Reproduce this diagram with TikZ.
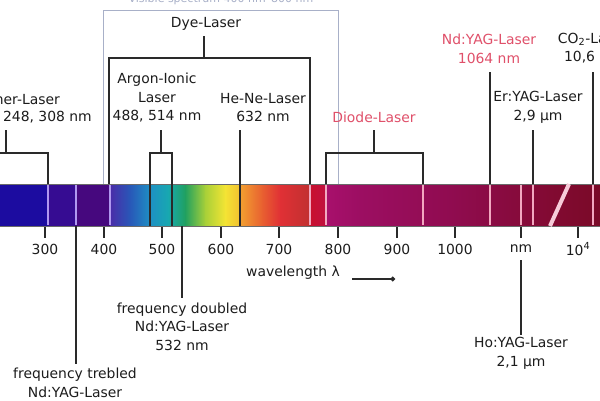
\documentclass[tikz,border=0pt]{standalone}
\usepackage{fontspec}
\usetikzlibrary{arrows.meta}
\setmainfont{DejaVu Sans}
\definecolor{txt}{HTML}{1C1C1C}
\definecolor{redt}{HTML}{E0506A}
\definecolor{lin}{HTML}{2A2A2A}
\definecolor{visc}{HTML}{A8B0C8}
\definecolor{vline}{HTML}{B098F0}
\definecolor{pline}{HTML}{F2A8C0}
\definecolor{s0}{HTML}{1C0CA0}
\definecolor{s1}{HTML}{360C92}
\definecolor{s2}{HTML}{46087E}
\definecolor{s3}{HTML}{4A2CA8}
\definecolor{s4}{HTML}{2858B8}
\definecolor{s5}{HTML}{1E90C4}
\definecolor{s6}{HTML}{18A8B0}
\definecolor{s7}{HTML}{20A060}
\definecolor{s8}{HTML}{A8D038}
\definecolor{s9}{HTML}{F4E434}
\definecolor{s10}{HTML}{F2C030}
\definecolor{s11}{HTML}{F2A030}
\definecolor{s12}{HTML}{E86030}
\definecolor{s13}{HTML}{E03035}
\definecolor{s14}{HTML}{C03030}
\definecolor{s15}{HTML}{C8102E}
\definecolor{s16}{HTML}{C01040}
\definecolor{s17}{HTML}{A8106C}
\definecolor{s18}{HTML}{9C0E62}
\definecolor{s19}{HTML}{900C50}
\definecolor{s20}{HTML}{820A32}
\definecolor{s21}{HTML}{7A0A28}
\begin{document}
\begin{tikzpicture}[x=1pt,y=-1pt,
  lbl/.style={inner sep=0pt, align=center, text=txt, font=\fontsize{13.9}{18.5}\selectfont},
  redlbl/.style={lbl, text=redt},
  vislbl/.style={inner sep=0pt, text=visc, font=\fontsize{11}{13}\selectfont},
  conn/.style={draw=lin, line width=1.5pt},
  tickmark/.style={draw=lin, line width=2pt},
  vbar/.style={draw=vline, line width=1.5pt},
  pbar/.style={draw=pline, line width=1.5pt}]
\useasboundingbox (0,0) rectangle (600,400);
\clip (0,0) rectangle (600,400);
\fill[white] (0,0) rectangle (600,400);

% visible spectrum box
\node[vislbl] (vis) at (221,-1) {Visible spectrum 400 nm–800 nm};
\draw[visc, line width=1pt] (103,184) -- (103,10) -- (338,10) -- (338,184);

% spectrum bar
\fill[s0] (0,184) rectangle (48.5,226);
\fill[s1] (48,184) rectangle (76.5,226);
\fill[s2] (76,184) rectangle (110.5,226);
\shade[left color=s3, right color=s4] (110,184) rectangle (130.5,226);
\shade[left color=s4, right color=s5] (130,184) rectangle (150.5,226);
\shade[left color=s5, right color=s6] (150,184) rectangle (168.5,226);
\shade[left color=s6, right color=s7] (168,184) rectangle (185.5,226);
\shade[left color=s7, right color=s8] (185,184) rectangle (205.5,226);
\shade[left color=s8, right color=s9] (205,184) rectangle (225.5,226);
\shade[left color=s9, right color=s10] (225,184) rectangle (240.5,226);
\shade[left color=s11, right color=s12] (240,184) rectangle (262.5,226);
\shade[left color=s12, right color=s13] (262,184) rectangle (280.5,226);
\shade[left color=s13, right color=s14] (280,184) rectangle (310.5,226);
\shade[left color=s15, right color=s16] (310,184) rectangle (326.5,226);
\shade[left color=s17, right color=s18] (326,184) rectangle (360.5,226);
\shade[left color=s18, right color=s19] (360,184) rectangle (450.5,226);
\shade[left color=s19, right color=s20] (450,184) rectangle (550.5,226);
\shade[left color=s20, right color=s21] (550,184) rectangle (600,226);
\draw[lin!70, line width=0.6pt] (0,184) -- (600,184) (0,226) -- (600,226);

% light lines in the bar
\foreach \x in {48,76,110} \draw[vbar] (\x,185) -- (\x,225);
\foreach \x in {310,326,423,490,521,533,593} \draw[pbar] (\x,185) -- (\x,225);
\draw[draw=pline!60!white, line width=4pt] (550,226) -- (569,184);

% ticks and labels
\foreach \x/\t/\n in {45/300/t3,104/400/t4,162/500/t5,221/600/t6,279/700/t7,338/800/t8,397/900/t9,455/1000/t10,521/nm/tnm,578/10\textsuperscript{4}/t11}{
  \coordinate (\n a) at (\x,227);
  \coordinate (\n b) at (\x,238);
  \draw[tickmark] (\n a) -- (\n b);
  \node[lbl] (\n) at (\x,249) {\t};
}
\node[lbl] (wl) at (293,273) {wavelength λ};
\coordinate (arA) at (352,279);
\coordinate (arB) at (395,279);
\draw[draw=lin, line width=1.3pt, -{Circle[length=4.5pt]}] (arA) -- (arB);

% Excimer
\node[lbl, anchor=east] (exc1) at (60,99) {Excimer-Laser};
\node[lbl, anchor=east] (exc2) at (92,117) {193, 248, 308 nm};
\coordinate (excT) at (6,130); \coordinate (excM) at (6,153);
\coordinate (excL) at (-25,153); \coordinate (excR) at (48,153);
\coordinate (excLb) at (-25,184); \coordinate (excRb) at (48,184);
\draw[conn] (excT) -- (excM);
\draw[conn] (excLb) -- (excL) -- (excR) -- (excRb);

% Dye
\node[lbl] (dye) at (206,24) {Dye-Laser};
\coordinate (dyeT) at (204,36); \coordinate (dyeM) at (204,58);
\coordinate (dyeL) at (109,58); \coordinate (dyeR) at (310,58);
\coordinate (dyeLb) at (109,184); \coordinate (dyeRb) at (310,184);
\draw[conn] (dyeT) -- (dyeM);
\draw[conn] (dyeLb) -- (dyeL) -- (dyeR) -- (dyeRb);

% Argon
\node[lbl] (arg) at (157,98) {Argon-Ionic\\Laser\\488, 514 nm};
\coordinate (argT) at (161,130); \coordinate (argM) at (161,153);
\coordinate (argL) at (150,153); \coordinate (argR) at (172,153);
\coordinate (argLb) at (150,226); \coordinate (argRb) at (172,226);
\draw[conn] (argT) -- (argM);
\draw[conn] (argLb) -- (argL) -- (argR) -- (argRb);

% He-Ne
\node[lbl] (hene) at (263,107.5) {He-Ne-Laser\\632 nm};
\coordinate (heT) at (240,130); \coordinate (heB) at (240,226);
\draw[conn] (heT) -- (heB);

% Diode
\node[redlbl] (diode) at (374,117) {Diode-Laser};
\coordinate (diT) at (374,130); \coordinate (diM) at (374,153);
\coordinate (diL) at (326,153); \coordinate (diR) at (423,153);
\coordinate (diLb) at (326,184); \coordinate (diRb) at (423,184);
\draw[conn] (diT) -- (diM);
\draw[conn] (diLb) -- (diL) -- (diR) -- (diRb);

% Nd:YAG
\node[redlbl] (nd) at (489,49) {Nd:YAG-Laser\\1064 nm};
\coordinate (ndT) at (490,72); \coordinate (ndB) at (490,184);
\draw[conn] (ndT) -- (ndB);

% CO2
\node[lbl] (co) at (593,49) {CO\textsubscript{2}-Laser\\10,6 µm};
\coordinate (coT) at (593,72); \coordinate (coB) at (593,184);
\draw[conn] (coT) -- (coB);

% Er:YAG
\node[lbl] (er) at (538,107.5) {Er:YAG-Laser\\2,9 µm};
\coordinate (erT) at (533,130); \coordinate (erB) at (533,184);
\draw[conn] (erT) -- (erB);

% frequency doubled
\node[lbl] (fd) at (182,326.5) {frequency doubled\\Nd:YAG-Laser\\532 nm};
\coordinate (fdT) at (182,226); \coordinate (fdB) at (182,298);
\draw[conn] (fdT) -- (fdB);

% frequency trebled
\node[lbl] (ft) at (75,392) {frequency trebled\\Nd:YAG-Laser\\355 nm};
\coordinate (ftT) at (76,226); \coordinate (ftB) at (76,364);
\draw[conn] (ftT) -- (ftB);

% Ho:YAG
\node[lbl] (ho) at (521,353.5) {Ho:YAG-Laser\\2,1 µm};
\coordinate (hoT) at (521,260); \coordinate (hoB) at (521,335);
\draw[conn] (hoT) -- (hoB);
\end{tikzpicture}
\end{document}
